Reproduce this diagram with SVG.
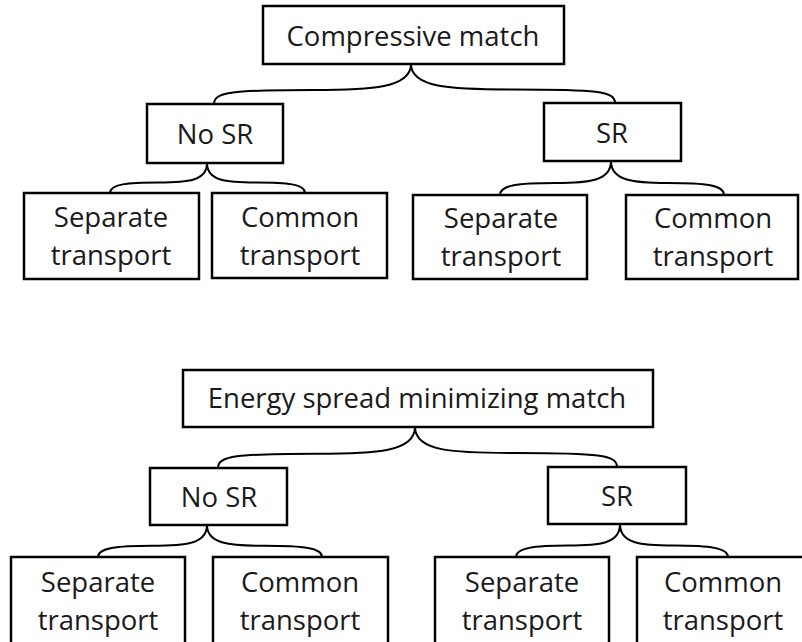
<svg xmlns="http://www.w3.org/2000/svg" width="802" height="642" viewBox="0 0 802 642">
<style>
.box{fill:#fff;stroke:#000;stroke-width:2.5}
.t{font-family:"Open Sans","Noto Sans","DejaVu Sans",sans-serif;font-size:27.5px;fill:#1a1a1a;text-anchor:middle}
.br{fill:none;stroke:#000;stroke-width:2}
</style>
<rect width="802" height="642" fill="#fff"/>
<g id="connectors">
<path class="br" d="M214,104 C214,92 232,90 312.5,90 C371.6,90 411,88 411,64"/>
<path class="br" d="M615,103 C615,91 597,89.4 513,89.4 C451.8,89.4 411,88 411,64"/>
<path class="br" d="M110,193 C110,184 128,182.5 158.5,182.5 C187.6,182.5 207,181 207,163"/>
<path class="br" d="M305,193 C305,184 287,182.5 256,182.5 C226.6,182.5 207,181 207,163"/>
<path class="br" d="M500,195 C500,185 518,183 555.5,183 C588.8,183 611,181 611,161"/>
<path class="br" d="M724,195 C724,185 706,183 667.5,183 C634.2,183 611,181 611,161"/>
<path class="br" d="M218,468 C218,456 236,453.7 316.5,453.7 C375.6,453.7 415,452 415,427"/>
<path class="br" d="M617,467 C617,455 599,453 516,453 C455.4,453 415,452 415,427"/>
<path class="br" d="M98,557 C98,548 116,545.8 152.5,545.8 C185.2,545.8 207,544 207,525"/>
<path class="br" d="M322,557 C322,548 304,545.8 264.5,545.8 C230,545.8 207,544 207,525"/>
<path class="br" d="M516,557 C516,548 534,545.5 568,545.5 C599.2,545.5 620,544 620,524"/>
<path class="br" d="M728,557 C728,548 710,545.5 674,545.5 C641.6,545.5 620,544 620,524"/>
</g>
<g id="compressive">
<rect class="box" x="263" y="6" width="301" height="58"/>
<text class="t" x="413" y="46">Compressive match</text>
</g>
<g id="nosr1">
<rect class="box" x="147" y="104" width="136" height="59"/>
<text class="t" x="215" y="144">No SR</text>
</g>
<g id="sr1">
<rect class="box" x="544" y="103" width="137" height="58"/>
<text class="t" x="612" y="143">SR</text>
</g>
<g id="sep1">
<rect class="box" x="24" y="193" width="175" height="86"/>
<text class="t" x="111" y="227">Separate</text>
<text class="t" x="111" y="265">transport</text>
</g>
<g id="com1">
<rect class="box" x="212" y="193" width="175" height="85"/>
<text class="t" x="300" y="227">Common</text>
<text class="t" x="300" y="265">transport</text>
</g>
<g id="sep2">
<rect class="box" x="413" y="195" width="174" height="84"/>
<text class="t" x="501" y="228">Separate</text>
<text class="t" x="501" y="266">transport</text>
</g>
<g id="com2">
<rect class="box" x="626" y="195" width="172" height="84"/>
<text class="t" x="713" y="228">Common</text>
<text class="t" x="713" y="266">transport</text>
</g>
<g id="energy">
<rect class="box" x="183" y="370" width="470" height="57"/>
<text class="t" x="417" y="408">Energy spread minimizing match</text>
</g>
<g id="nosr2">
<rect class="box" x="150" y="468" width="137" height="57"/>
<text class="t" x="219" y="507">No SR</text>
</g>
<g id="sr2">
<rect class="box" x="548" y="467" width="138" height="57"/>
<text class="t" x="617" y="506">SR</text>
</g>
<g id="sep3">
<rect class="box" x="11" y="557" width="174" height="90"/>
<text class="t" x="98" y="592">Separate</text>
<text class="t" x="98" y="630">transport</text>
</g>
<g id="com3">
<rect class="box" x="213" y="557" width="175" height="90"/>
<text class="t" x="300" y="592">Common</text>
<text class="t" x="300" y="630">transport</text>
</g>
<g id="sep4">
<rect class="box" x="435" y="557" width="174" height="90"/>
<text class="t" x="522" y="592">Separate</text>
<text class="t" x="522" y="630">transport</text>
</g>
<g id="com4">
<rect class="box" x="637" y="557" width="175" height="90"/>
<text class="t" x="723" y="592">Common</text>
<text class="t" x="723" y="630">transport</text>
</g>
</svg>
